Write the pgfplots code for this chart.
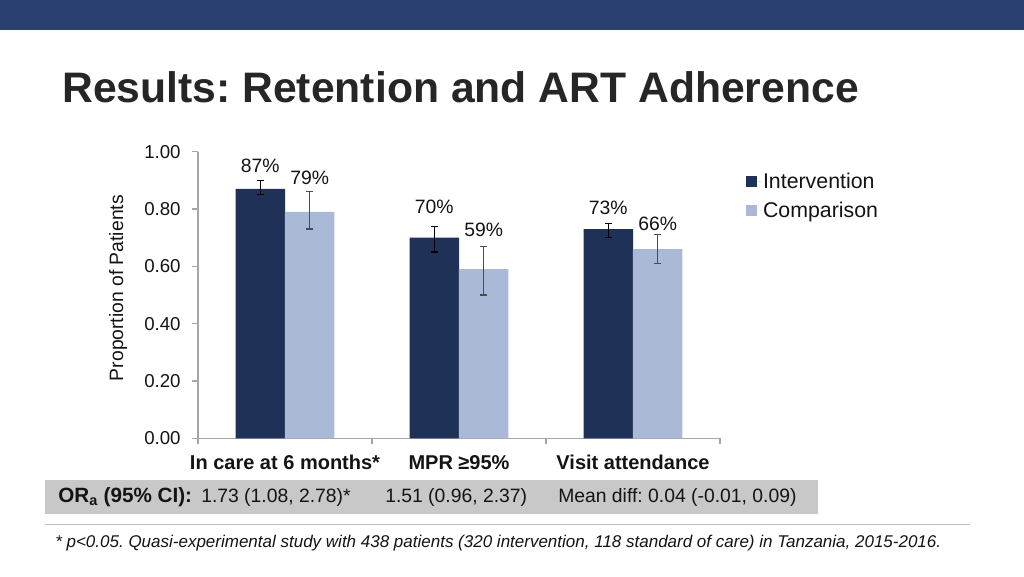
\documentclass[border=0pt]{standalone}
\usepackage{pgfplots}
\pgfplotsset{compat=1.18}
\usepackage{fontspec}
\setmainfont{Liberation Sans}
\frenchspacing
\definecolor{banner}{RGB}{41,64,112}
\definecolor{interv}{RGB}{32,49,88}
\definecolor{compar}{RGB}{170,185,214}
\definecolor{axgray}{RGB}{166,166,166}
\definecolor{band}{RGB}{200,200,200}
\definecolor{titlec}{RGB}{38,38,38}
\definecolor{txt}{RGB}{20,20,20}
\begin{document}
\begin{tikzpicture}
\begin{scope}[x=0.75pt,y=-0.75pt]
\fill[white] (0,0) rectangle (1024,576);
\fill[banner] (0,0) rectangle (1024,30);
\node[anchor=base west, inner sep=0pt, text=titlec, font=\fontsize{32}{36}\selectfont\bfseries] at (62,102) {Results: Retention and ART Adherence};
\fill[band] (45,480) rectangle (818,514);
\node[anchor=base west, inner sep=0pt, text=txt, font=\fontsize{15.5}{18}\selectfont\bfseries] at (58,502.5) {OR\textsubscript{a} (95\% CI):};
\node[anchor=base west, inner sep=0pt, text=txt, font=\fontsize{14.5}{18}\selectfont] at (201,502.5) {1.73 (1.08, 2.78)*};
\node[anchor=base west, inner sep=0pt, text=txt, font=\fontsize{14.5}{18}\selectfont] at (385,502.5) {1.51 (0.96, 2.37)};
\node[anchor=base west, inner sep=0pt, text=txt, font=\fontsize{14.5}{18}\selectfont] at (558,502.5) {Mean diff: 0.04 (-0.01, 0.09)};
\draw[black!25, line width=0.75pt] (45,524) -- (970,524);
\node[anchor=base west, inner sep=0pt, text=txt, font=\fontsize{12.75}{15}\selectfont\itshape] at (55,547) {* p<0.05. Quasi-experimental study with 438 patients (320 intervention, 118 standard of care) in Tanzania, 2015-2016.};
\end{scope}
\begin{axis}[
  at={(148.5pt,-328.725pt)}, anchor=south west,
  scale only axis, width=391.5pt, height=215pt,
  xmin=-0.5, xmax=2.5, ymin=0, ymax=1,
  axis x line*=bottom, axis y line*=left,
  axis line style={axgray, line width=1pt},
  tick align=outside,
  major tick length=4.5pt,
  tick style={axgray, line width=1pt},
  xtick={-0.5,0.5,1.5,2.5},
  x tick label as interval,
  xticklabels={In care at 6 months*, MPR ≥95\%, Visit attendance},
  xticklabel style={font=\fontsize{15}{18}\selectfont\bfseries, text=txt, anchor=north, text height=11pt, text depth=0pt, yshift=-4.5pt},
  ytick={0,0.2,0.4,0.6,0.8,1},
  yticklabel style={font=\fontsize{14}{17}\selectfont, text=txt, xshift=-5pt, /pgf/number format/.cd, fixed, fixed zerofill, precision=2},
  /pgf/number format/assume math mode=true,
  ylabel={Proportion of Patients},
  ylabel style={font=\fontsize{14.5}{17}\selectfont, text=txt, at={(axis description cs:-0.153,0.524)}, anchor=center},
  legend style={at={(axis description cs:1.05,0.9345)}, anchor=north west, draw=none, fill=none, font=\fontsize{16}{19}\selectfont, text=txt, inner sep=0pt, nodes={inner sep=1.5pt}, row sep=5.75pt},
  legend cell align=left,
  clip=false,
]
\addplot[ybar, bar width=37.1pt, bar shift=0pt, fill=interv, draw=none,
  legend image code/.code={\fill[interv] (0pt,-3.95pt) rectangle (7.9pt,3.95pt); \path (0pt,0pt) -- (11pt,0pt);},
  error bars/.cd, y dir=both, y explicit,
  error bar style={black, line width=1pt},
  error mark options={rotate=90, black, mark size=2.6pt, line width=1pt}]
  coordinates {(-0.142,0.87) += (0,0.03) -= (0,0.02)
               (0.858,0.70) += (0,0.04) -= (0,0.05)
               (1.858,0.73) += (0,0.02) -= (0,0.03)};
\addlegendentry{Intervention}
\addplot[ybar, bar width=37.1pt, bar shift=0pt, fill=compar, draw=none,
  legend image code/.code={\fill[compar] (0pt,-3.95pt) rectangle (7.9pt,3.95pt); \path (0pt,0pt) -- (11pt,0pt);},
  error bars/.cd, y dir=both, y explicit,
  error bar style={black!70, line width=1pt},
  error mark options={rotate=90, black!70, mark size=2.6pt, line width=1pt}]
  coordinates {(0.142,0.79) += (0,0.07) -= (0,0.06)
               (1.142,0.59) += (0,0.08) -= (0,0.09)
               (2.142,0.66) += (0,0.05) -= (0,0.05)};
\addlegendentry{Comparison}
\addplot[forget plot, only marks, mark=*, mark size=0pt, mark options={draw=none, fill=none},
  point meta=explicit symbolic, nodes near coords,
  nodes near coords style={font=\fontsize{14.5}{17}\selectfont, text=txt, inner sep=0pt, anchor=base}]
  coordinates {(-0.142,0.927) [87\%] (0.858,0.785) [70\%] (1.858,0.782) [73\%]
               (0.142,0.884) [79\%] (1.142,0.704) [59\%] (2.142,0.726) [66\%]};
\end{axis}
\end{tikzpicture}
\end{document}
